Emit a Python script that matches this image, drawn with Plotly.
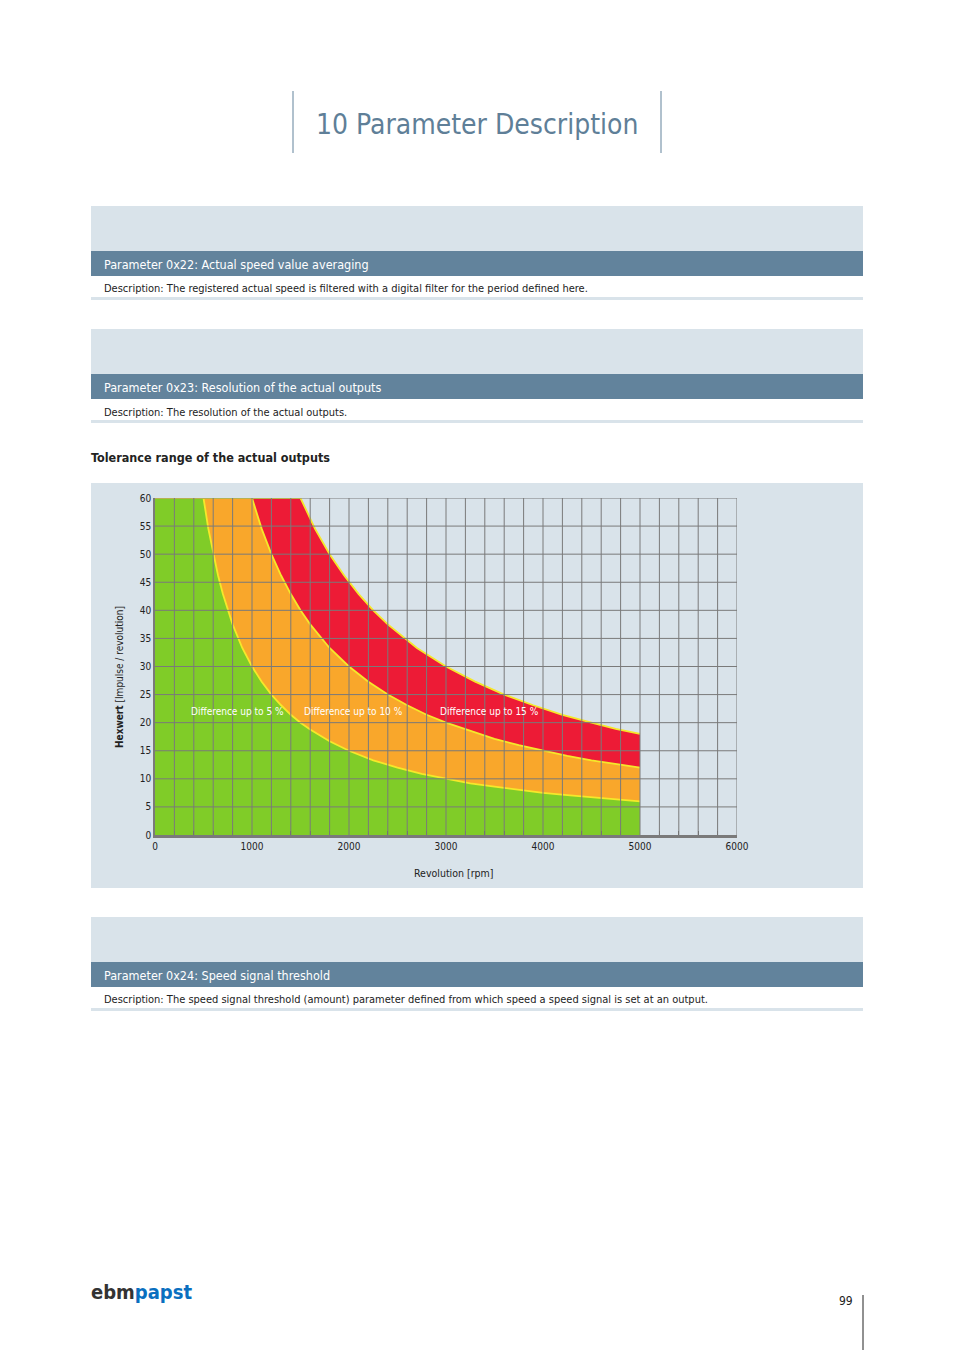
import plotly.graph_objects as go

# rpm / pulse value points
rpm_5 = [0, 500, 550, 600, 650, 700, 750, 800, 900, 1000, 1100, 1200, 1300, 1400, 1500, 1600, 1800,
         2000, 2250, 2500, 2750, 3000, 3250, 3500, 3750, 4000, 4250, 4500, 4750, 5000]
hex_5 = [60, 60, 54.5, 50, 46.2, 42.9, 40, 37.5, 33.3, 30, 27.3, 25, 23.1, 21.4, 20, 18.8, 16.7,
         15, 13.3, 12, 10.9, 10, 9.2, 8.6, 8, 7.5, 7.1, 6.7, 6.3, 6]
rpm_10 = [0, 1000, 1100, 1200, 1300, 1400, 1500, 1600, 1800, 2000, 2200, 2400, 2600, 2800, 3000,
          3250, 3500, 3750, 4000, 4250, 4500, 4750, 5000]
hex_10 = [60, 60, 54.5, 50, 46.2, 42.9, 40, 37.5, 33.3, 30, 27.3, 25, 23.1, 21.4, 20,
          18.5, 17.1, 16, 15, 14.1, 13.3, 12.6, 12]
rpm_15 = [0, 1500, 1650, 1800, 1950, 2100, 2250, 2400, 2700, 3000, 3300, 3600, 3900, 4200, 4500,
          4750, 5000]
hex_15 = [60, 60, 54.5, 50, 46.2, 42.9, 40, 37.5, 33.3, 30, 27.3, 25, 23.1, 21.4, 20, 18.9, 18]

labels = ["Difference up to 5 %", "Difference up to 10 %", "Difference up to 15 %"]
label_x = [350, 1515, 2918]

FONT = "DejaVu Sans Condensed, Liberation Sans Narrow, Roboto"
DARK = "#62839c"
LIGHT = "#d9e3ea"
GRID = "#7a7a7a"

L, R, T, B = 155, 737, 498, 835
W, H = R - L, B - T
OFF = 8  # page body margin


def px(x):
    return (x - L) / W


def py(y):
    return (B - y) / H


fig = go.Figure()
for xs, ys, col in [(rpm_15, hex_15, "#ed1b36"), (rpm_10, hex_10, "#f9a72b"), (rpm_5, hex_5, "#80cc28")]:
    fig.add_trace(go.Scatter(x=xs, y=ys, mode="lines", fill="tozeroy", fillcolor=col,
                             line=dict(color="#f5e82a", width=1.8), hoverinfo="skip"))

shapes = []
def rect(x0, y0, x1, y1, col, layer="below"):
    shapes.append(dict(type="rect", xref="paper", yref="paper", x0=px(x0), x1=px(x1),
                       y0=py(y1), y1=py(y0), fillcolor=col, line_width=0, layer=layer))

def vline(x, y0, y1, col, w=1):
    shapes.append(dict(type="line", xref="paper", yref="paper", x0=px(x), x1=px(x),
                       y0=py(y0), y1=py(y1), line=dict(color=col, width=w)))

vline(293, 91, 153, DARK)
vline(661, 91, 153, DARK)
for top in (206, 329, 917):
    rect(91, top, 863, top + 45, LIGHT)
    rect(91, top + 45, 863, top + 70, DARK)
    rect(91, top + 91, 863, top + 94, LIGHT)
rect(91, 483, 863, 888, LIGHT)
vline(863, 1295, 1350, "#222")

# grid drawn over the filled areas
for gx in range(200, 6001, 200):
    shapes.append(dict(type="line", xref="x", yref="y", x0=gx, x1=gx, y0=0, y1=60,
                       line=dict(color=GRID, width=1), layer="above"))
for gy in range(5, 61, 5):
    shapes.append(dict(type="line", xref="x", yref="y", x0=0, x1=6000, y0=gy, y1=gy,
                       line=dict(color=GRID, width=1), layer="above"))

ann = []
def text(x, y, s, size, col="#222", anchor="left", **kw):
    ann.append(dict(xref="paper", yref="paper", x=px(x), y=py(y), text=s, showarrow=False,
                    xanchor=anchor, yanchor="middle", font=dict(family=FONT, size=size, color=col), **kw))

text(314, 124, "10 Parameter Description", 28, "#5f7f98")
text(102, 264, "Parameter 0x22: Actual speed value averaging", 12.5, "white")
text(102, 288, "Description: The registered actual speed is filtered with a digital filter for the period defined here.", 11)
text(102, 387, "Parameter 0x23: Resolution of the actual outputs", 12.5, "white")
text(102, 412, "Description: The resolution of the actual outputs.", 11)
text(89, 457, "<b>Tolerance range of the actual outputs</b>", 12.5)
text(102, 975, "Parameter 0x24: Speed signal threshold", 12.5, "white")
text(102, 999, "Description: The speed signal threshold (amount) parameter defined from which speed a speed signal is set at an output.", 11)
text(89, 1292, "<b><span style='color:#333'>ebm</span><span style='color:#0a6fbf'>papst</span></b>", 20)
text(855, 1301, "99", 12, anchor="right")
text(453, 873, "Revolution [rpm]", 10.5, anchor="center")
text(119, 677, "<b>Hexwert</b> [Impulse / revolution]", 10, anchor="center", textangle=-90)
for s, x in zip(labels, label_x):
    ann.append(dict(x=x, y=22, xref="x", yref="y", text=s, showarrow=False, xanchor="left",
                    font=dict(family=FONT, size=10, color="white")))

fig.update_layout(
    width=954, height=1350,
    margin=dict(l=L - OFF, r=954 - (R - OFF), t=T - OFF, b=1350 - (B - OFF)),
    paper_bgcolor="white", plot_bgcolor=LIGHT, showlegend=False,
    shapes=shapes, annotations=ann, font=dict(family=FONT, size=10, color="#222"),
)
fig.update_xaxes(range=[0, 6000], dtick=1000, showgrid=False,
                 minor=dict(dtick=200, ticks="inside", ticklen=4, tickcolor="#666"),
                 zeroline=False, showline=True, linecolor=GRID, linewidth=3, ticks="")
fig.update_yaxes(range=[0, 60], dtick=5, showgrid=False,
                 zeroline=False, showline=True, linecolor=GRID, linewidth=1.5, ticks="")

fig.write_html("out.html")
